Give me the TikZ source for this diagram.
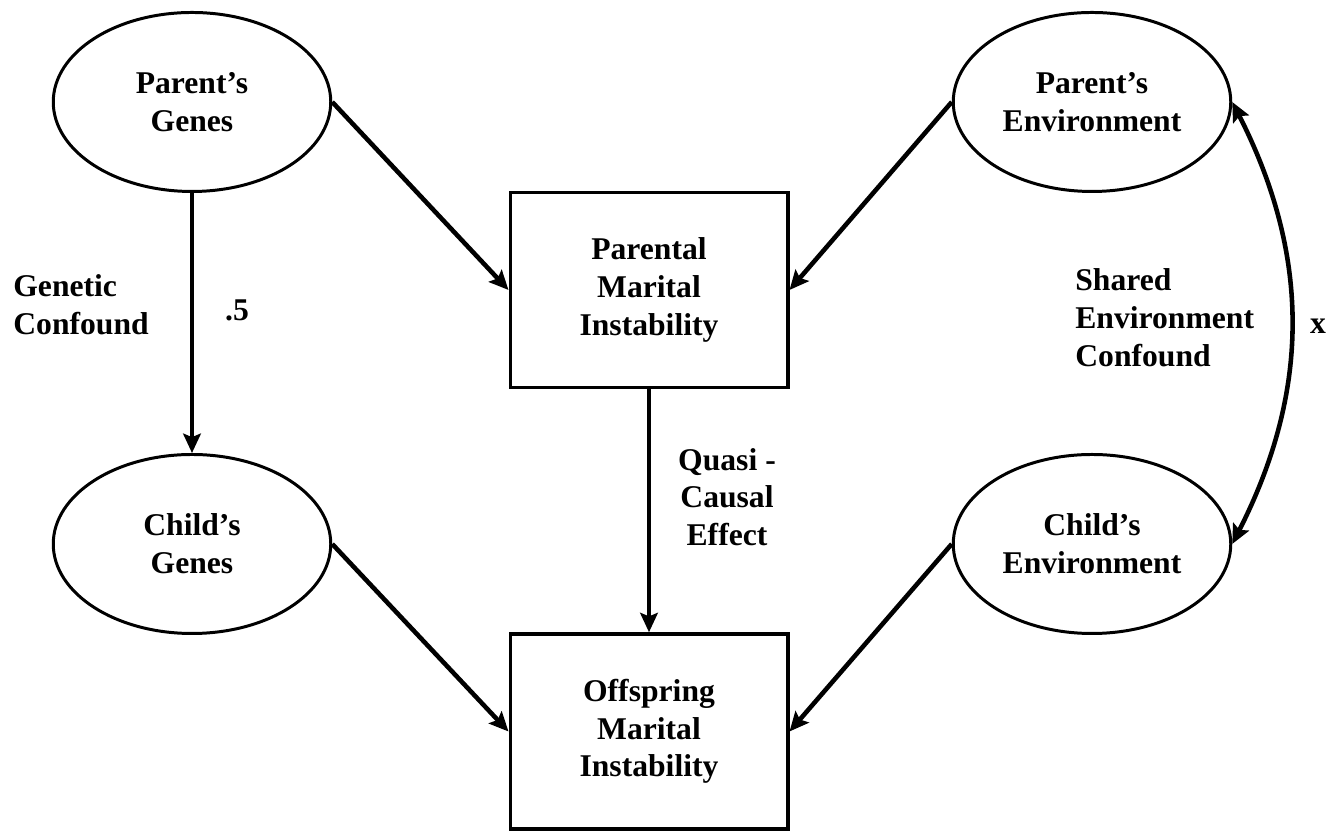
\documentclass[tikz,border=0pt]{standalone}
\usepackage{fontspec}
\setmainfont{Liberation Serif}
\usetikzlibrary{shapes.geometric,arrows.meta}
\tikzset{
	every node/.style={font=\fontsize{18}{21.5}\selectfont\bfseries},
	latent/.style={draw,ellipse,line width=1.7pt,minimum width=5.55cm,minimum height=3.58cm,inner sep=0pt,align=center},
	observed/.style={draw,rectangle,line width=2pt,minimum width=5.55cm,minimum height=3.9cm,inner sep=0pt,align=center},
	path/.style={line width=2.6pt,-{Stealth[length=11pt,width=10pt,inset=2pt]}},
	label text/.style={align=left,inner sep=0pt}
}
\begin{document}
\begin{tikzpicture}
	\useasboundingbox (0,0) rectangle (26.88,16.64);

	\node[latent] (pg) at (3.84,14.6) {Parent's\\Genes};
	\node[latent] (pe) at (21.84,14.6) {Parent's\\Environment};
	\node[latent] (cg) at (3.84,5.76) {Child's\\Genes};
	\node[latent] (ce) at (21.84,5.76) {Child's\\Environment};
	\node[observed] (pmi) at (12.98,10.84) {Parental\\Marital\\Instability};
	\node[observed] (omi) at (12.98,2.01) {Offspring\\Marital\\Instability};

	\draw[path] (pg.east) -- (pmi.west);
	\draw[path] (pe.west) -- (pmi.east);
	\draw[path] (cg.east) -- (omi.west);
	\draw[path] (ce.west) -- (omi.east);
	\draw[path] (pg.south) -- (cg.north);%genetic path
	\draw[path] (pmi.south) -- (omi.north);%quasi-causal path
	\draw[path,{Stealth[length=11pt,width=10pt,inset=2pt]}-{Stealth[length=11pt,width=10pt,inset=2pt]}] (pe.east) to[bend left=27] (ce.east);%shared environment

	\node[label text,anchor=west] (gc) at (0.26,10.54) {Genetic\\Confound};
	\node[label text] (half) at (4.74,10.44) {.5};
	\node[label text,anchor=west] (sec) at (21.5,10.28) {Shared\\Environment\\Confound};
	\node[label text] (xval) at (26.36,10.12) {x};
	\node[label text,align=center] (qce) at (14.54,6.7) {Quasi -\\Causal\\Effect};
\end{tikzpicture}
\end{document}
